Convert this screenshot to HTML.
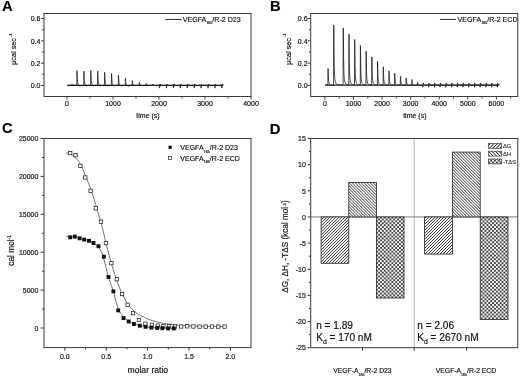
<!DOCTYPE html>
<html><head><meta charset="utf-8"><style>
html,body{margin:0;padding:0;background:#fff;}
svg{display:block;font-family:"Liberation Sans", sans-serif;will-change:transform;} text{stroke:#141414;stroke-width:0.18px;}
</style></head><body>
<svg width="520" height="378" viewBox="0 0 520 378">
<rect width="520" height="378" fill="#fff"/>
<text x="2.00" y="11.30" font-size="14.8" text-anchor="start" font-weight="bold" fill="#000" >A</text>
<text x="270.10" y="11.10" font-size="14.8" text-anchor="start" font-weight="bold" fill="#000" >B</text>
<text x="1.90" y="133.20" font-size="14.8" text-anchor="start" font-weight="bold" fill="#000" >C</text>
<text x="269.70" y="133.70" font-size="14.8" text-anchor="start" font-weight="bold" fill="#000" >D</text>
<rect x="44.00" y="13.50" width="207.00" height="83.00" fill="none" stroke="#3a3a3a" stroke-width="1"/>
<line x1="41.00" y1="85.40" x2="44.00" y2="85.40" stroke="#3a3a3a" stroke-width="1"/>
<text transform="translate(40.50,88.10) scale(1,1.12)" font-size="7.0" text-anchor="end" fill="#141414">0.0</text>
<line x1="41.00" y1="63.13" x2="44.00" y2="63.13" stroke="#3a3a3a" stroke-width="1"/>
<text transform="translate(40.50,65.83) scale(1,1.12)" font-size="7.0" text-anchor="end" fill="#141414">0.2</text>
<line x1="41.00" y1="40.86" x2="44.00" y2="40.86" stroke="#3a3a3a" stroke-width="1"/>
<text transform="translate(40.50,43.56) scale(1,1.12)" font-size="7.0" text-anchor="end" fill="#141414">0.4</text>
<line x1="41.00" y1="18.59" x2="44.00" y2="18.59" stroke="#3a3a3a" stroke-width="1"/>
<text transform="translate(40.50,21.29) scale(1,1.12)" font-size="7.0" text-anchor="end" fill="#141414">0.6</text>
<line x1="42.20" y1="74.27" x2="44.00" y2="74.27" stroke="#3a3a3a" stroke-width="1"/>
<line x1="42.20" y1="52.00" x2="44.00" y2="52.00" stroke="#3a3a3a" stroke-width="1"/>
<line x1="42.20" y1="29.73" x2="44.00" y2="29.73" stroke="#3a3a3a" stroke-width="1"/>
<line x1="67.00" y1="96.50" x2="67.00" y2="99.50" stroke="#3a3a3a" stroke-width="1"/>
<text transform="translate(67.00,105.80) scale(1,1.12)" font-size="7.0" text-anchor="middle" fill="#141414">0</text>
<line x1="113.00" y1="96.50" x2="113.00" y2="99.50" stroke="#3a3a3a" stroke-width="1"/>
<text transform="translate(113.00,105.80) scale(1,1.12)" font-size="7.0" text-anchor="middle" fill="#141414">1000</text>
<line x1="159.00" y1="96.50" x2="159.00" y2="99.50" stroke="#3a3a3a" stroke-width="1"/>
<text transform="translate(159.00,105.80) scale(1,1.12)" font-size="7.0" text-anchor="middle" fill="#141414">2000</text>
<line x1="205.00" y1="96.50" x2="205.00" y2="99.50" stroke="#3a3a3a" stroke-width="1"/>
<text transform="translate(205.00,105.80) scale(1,1.12)" font-size="7.0" text-anchor="middle" fill="#141414">3000</text>
<line x1="251.00" y1="96.50" x2="251.00" y2="99.50" stroke="#3a3a3a" stroke-width="1"/>
<text transform="translate(251.00,105.80) scale(1,1.12)" font-size="7.0" text-anchor="middle" fill="#141414">4000</text>
<line x1="90.00" y1="96.50" x2="90.00" y2="98.30" stroke="#3a3a3a" stroke-width="1"/>
<line x1="136.00" y1="96.50" x2="136.00" y2="98.30" stroke="#3a3a3a" stroke-width="1"/>
<line x1="182.00" y1="96.50" x2="182.00" y2="98.30" stroke="#3a3a3a" stroke-width="1"/>
<line x1="228.00" y1="96.50" x2="228.00" y2="98.30" stroke="#3a3a3a" stroke-width="1"/>
<text x="148.00" y="118.20" font-size="7.0" text-anchor="middle" font-weight="normal" fill="#141414" >time (s)</text>
<text transform="translate(16.10,64.9) rotate(-90)" font-size="7.3" text-anchor="start" fill="#141414">&#181;cal sec<tspan dy="-4.4" dx="1.0" font-size="4.2">-1</tspan></text>
<rect x="310.70" y="13.50" width="207.10" height="83.00" fill="none" stroke="#3a3a3a" stroke-width="1"/>
<line x1="307.70" y1="85.40" x2="310.70" y2="85.40" stroke="#3a3a3a" stroke-width="1"/>
<text transform="translate(307.60,88.10) scale(1,1.12)" font-size="7.0" text-anchor="end" fill="#141414">0.0</text>
<line x1="307.70" y1="63.13" x2="310.70" y2="63.13" stroke="#3a3a3a" stroke-width="1"/>
<text transform="translate(307.60,65.83) scale(1,1.12)" font-size="7.0" text-anchor="end" fill="#141414">0.2</text>
<line x1="307.70" y1="40.86" x2="310.70" y2="40.86" stroke="#3a3a3a" stroke-width="1"/>
<text transform="translate(307.60,43.56) scale(1,1.12)" font-size="7.0" text-anchor="end" fill="#141414">0.4</text>
<line x1="307.70" y1="18.59" x2="310.70" y2="18.59" stroke="#3a3a3a" stroke-width="1"/>
<text transform="translate(307.60,21.29) scale(1,1.12)" font-size="7.0" text-anchor="end" fill="#141414">0.6</text>
<line x1="308.90" y1="74.27" x2="310.70" y2="74.27" stroke="#3a3a3a" stroke-width="1"/>
<line x1="308.90" y1="52.00" x2="310.70" y2="52.00" stroke="#3a3a3a" stroke-width="1"/>
<line x1="308.90" y1="29.73" x2="310.70" y2="29.73" stroke="#3a3a3a" stroke-width="1"/>
<line x1="324.90" y1="96.50" x2="324.90" y2="99.50" stroke="#3a3a3a" stroke-width="1"/>
<text transform="translate(324.90,105.80) scale(1,1.12)" font-size="7.0" text-anchor="middle" fill="#141414">0</text>
<line x1="353.48" y1="96.50" x2="353.48" y2="99.50" stroke="#3a3a3a" stroke-width="1"/>
<text transform="translate(353.48,105.80) scale(1,1.12)" font-size="7.0" text-anchor="middle" fill="#141414">1000</text>
<line x1="382.06" y1="96.50" x2="382.06" y2="99.50" stroke="#3a3a3a" stroke-width="1"/>
<text transform="translate(382.06,105.80) scale(1,1.12)" font-size="7.0" text-anchor="middle" fill="#141414">2000</text>
<line x1="410.64" y1="96.50" x2="410.64" y2="99.50" stroke="#3a3a3a" stroke-width="1"/>
<text transform="translate(410.64,105.80) scale(1,1.12)" font-size="7.0" text-anchor="middle" fill="#141414">3000</text>
<line x1="439.22" y1="96.50" x2="439.22" y2="99.50" stroke="#3a3a3a" stroke-width="1"/>
<text transform="translate(439.22,105.80) scale(1,1.12)" font-size="7.0" text-anchor="middle" fill="#141414">4000</text>
<line x1="467.80" y1="96.50" x2="467.80" y2="99.50" stroke="#3a3a3a" stroke-width="1"/>
<text transform="translate(467.80,105.80) scale(1,1.12)" font-size="7.0" text-anchor="middle" fill="#141414">5000</text>
<line x1="496.38" y1="96.50" x2="496.38" y2="99.50" stroke="#3a3a3a" stroke-width="1"/>
<text transform="translate(496.38,105.80) scale(1,1.12)" font-size="7.0" text-anchor="middle" fill="#141414">6000</text>
<line x1="339.19" y1="96.50" x2="339.19" y2="98.30" stroke="#3a3a3a" stroke-width="1"/>
<line x1="367.77" y1="96.50" x2="367.77" y2="98.30" stroke="#3a3a3a" stroke-width="1"/>
<line x1="396.35" y1="96.50" x2="396.35" y2="98.30" stroke="#3a3a3a" stroke-width="1"/>
<line x1="424.93" y1="96.50" x2="424.93" y2="98.30" stroke="#3a3a3a" stroke-width="1"/>
<line x1="453.51" y1="96.50" x2="453.51" y2="98.30" stroke="#3a3a3a" stroke-width="1"/>
<line x1="482.09" y1="96.50" x2="482.09" y2="98.30" stroke="#3a3a3a" stroke-width="1"/>
<line x1="510.67" y1="96.50" x2="510.67" y2="98.30" stroke="#3a3a3a" stroke-width="1"/>
<text x="414.80" y="118.20" font-size="7.0" text-anchor="middle" font-weight="normal" fill="#141414" >time (s)</text>
<text transform="translate(290.60,64.9) rotate(-90)" font-size="7.3" text-anchor="start" fill="#141414">&#181;cal sec<tspan dy="-4.4" dx="1.0" font-size="4.2">-1</tspan></text>
<line x1="165.20" y1="19.45" x2="181.80" y2="19.45" stroke="#1a1a1a" stroke-width="0.9"/>
<text x="182.70" y="21.80" font-size="7.1" fill="#141414">VEGFA<tspan dy="2.6" font-size="3.6">165</tspan><tspan dy="-2.6">/R-2 D23</tspan></text>
<line x1="439.90" y1="19.45" x2="456.00" y2="19.45" stroke="#1a1a1a" stroke-width="0.9"/>
<text x="457.60" y="21.80" font-size="7.1" fill="#141414">VEGFA<tspan dy="2.6" font-size="3.6">165</tspan><tspan dy="-2.6">/R-2 ECD</tspan></text>
<line x1="67.30" y1="85.35" x2="223.30" y2="85.35" stroke="#1a1a1a" stroke-width="1.3"/>
<path d="M67.30,85.30 L67.80,85.30 L68.30,85.30 L68.80,85.30 L69.30,85.30 L69.80,85.30 L70.30,85.30 L70.80,85.30 L71.30,85.30 L71.65,85.30 L71.80,85.30 L71.88,85.30 L72.00,84.40 L72.15,84.41 L72.30,84.72 L72.45,84.92 L72.65,85.07 L72.80,85.13 L72.90,85.16 L73.20,85.21 L73.30,85.22 L73.60,85.24 L73.80,85.25 L74.10,85.26 L74.30,85.27 L74.70,85.27 L74.80,85.28 L75.30,85.28 L75.40,85.28 L75.80,85.29 L76.20,85.29 L76.30,85.41 L76.55,85.69 L76.78,85.29 L76.80,85.29 L76.90,70.60 L77.05,70.81 L77.20,75.91 L77.30,78.18 L77.35,79.07 L77.55,81.53 L77.80,83.12 L78.10,84.08 L78.30,84.47 L78.50,84.77 L78.80,85.15 L79.00,85.36 L79.30,85.62 L79.60,85.78 L79.80,85.83 L80.30,85.76 L80.80,85.55 L81.30,85.36 L81.80,85.26 L82.30,85.24 L82.80,85.25 L83.12,85.26 L83.30,85.47 L83.47,85.66 L83.70,85.27 L83.80,85.27 L83.82,71.18 L83.97,71.38 L84.12,76.28 L84.27,79.31 L84.30,79.76 L84.47,81.67 L84.72,83.20 L84.80,83.51 L85.02,84.12 L85.30,84.63 L85.42,84.80 L85.80,85.26 L85.92,85.38 L86.30,85.69 L86.52,85.80 L86.80,85.85 L87.22,85.77 L87.30,85.74 L87.80,85.52 L88.30,85.34 L88.80,85.26 L89.30,85.24 L89.80,85.25 L90.04,85.26 L90.30,85.56 L90.39,85.66 L90.62,85.27 L90.74,70.58 L90.80,70.66 L90.89,70.79 L91.04,75.89 L91.19,79.05 L91.30,80.59 L91.39,81.51 L91.64,83.11 L91.80,83.70 L91.94,84.07 L92.30,84.71 L92.34,84.76 L92.80,85.31 L92.84,85.35 L93.30,85.71 L93.44,85.78 L93.80,85.83 L94.14,85.76 L94.30,85.70 L94.80,85.48 L95.30,85.31 L95.80,85.25 L96.30,85.24 L96.80,85.25 L96.96,85.26 L97.30,85.65 L97.31,85.66 L97.54,85.27 L97.66,71.18 L97.80,71.36 L97.81,71.38 L97.96,76.28 L98.11,79.31 L98.30,81.58 L98.31,81.67 L98.56,83.20 L98.80,83.98 L98.86,84.12 L99.26,84.80 L99.30,84.85 L99.76,85.38 L99.80,85.42 L100.30,85.77 L100.36,85.80 L100.80,85.84 L101.06,85.77 L101.30,85.67 L101.80,85.45 L102.30,85.30 L102.80,85.25 L103.30,85.24 L103.80,85.26 L103.88,85.26 L104.23,85.66 L104.30,85.59 L104.46,85.27 L104.58,72.28 L104.73,72.46 L104.80,74.84 L104.88,76.98 L105.03,79.78 L105.23,81.95 L105.30,82.46 L105.48,83.37 L105.78,84.23 L105.80,84.27 L106.18,84.87 L106.30,85.02 L106.68,85.42 L106.80,85.53 L107.28,85.83 L107.30,85.83 L107.80,85.85 L107.98,85.79 L108.30,85.65 L108.80,85.43 L109.30,85.30 L109.80,85.25 L110.30,85.25 L110.80,85.26 L111.15,85.67 L111.30,85.50 L111.38,85.27 L111.50,73.48 L111.65,73.65 L111.80,77.75 L111.95,80.29 L112.15,82.27 L112.30,83.15 L112.40,83.56 L112.70,84.35 L112.80,84.52 L113.10,84.94 L113.30,85.17 L113.60,85.47 L113.80,85.64 L114.20,85.86 L114.30,85.89 L114.80,85.85 L114.90,85.81 L115.30,85.63 L115.80,85.42 L116.30,85.29 L116.80,85.26 L117.30,85.26 L117.72,85.26 L117.80,85.36 L118.07,85.67 L118.30,85.27 L118.42,75.18 L118.57,75.33 L118.72,78.84 L118.80,80.13 L118.87,81.01 L119.07,82.71 L119.30,83.76 L119.32,83.82 L119.62,84.51 L119.80,84.78 L120.02,85.05 L120.30,85.34 L120.52,85.55 L120.80,85.76 L121.12,85.91 L121.30,85.94 L121.80,85.85 L121.82,85.84 L122.30,85.62 L122.80,85.41 L123.30,85.30 L123.80,85.26 L124.30,85.26 L124.64,85.27 L124.80,85.45 L124.99,85.67 L125.22,85.28 L125.30,85.28 L125.34,78.09 L125.49,78.19 L125.64,80.70 L125.79,82.25 L125.80,82.33 L125.99,83.47 L126.24,84.28 L126.30,84.41 L126.54,84.79 L126.80,85.09 L126.94,85.23 L127.30,85.55 L127.44,85.67 L127.80,85.90 L128.04,85.99 L128.30,86.01 L128.74,85.90 L128.80,85.87 L129.30,85.61 L129.80,85.41 L130.30,85.31 L130.80,85.28 L131.30,85.28 L131.56,85.28 L131.80,85.56 L131.91,85.68 L132.14,85.28 L132.26,80.69 L132.30,80.71 L132.41,80.75 L132.56,82.35 L132.71,83.35 L132.80,83.75 L132.91,84.12 L133.16,84.62 L133.30,84.79 L133.46,84.94 L133.80,85.15 L133.86,85.18 L134.30,85.38 L134.36,85.40 L134.80,85.54 L134.96,85.57 L135.30,85.58 L135.66,85.54 L135.80,85.51 L136.30,85.40 L136.80,85.33 L137.30,85.29 L137.80,85.28 L138.30,85.28 L138.48,85.29 L138.80,85.65 L138.83,85.69 L139.06,85.29 L139.18,82.39 L139.30,82.43 L139.33,82.44 L139.48,83.45 L139.63,84.07 L139.80,84.51 L139.83,84.56 L140.08,84.89 L140.30,85.06 L140.38,85.10 L140.78,85.29 L140.80,85.30 L141.28,85.48 L141.30,85.48 L141.80,85.61 L141.88,85.61 L142.30,85.61 L142.58,85.57 L142.80,85.52 L143.30,85.41 L143.80,85.33 L144.30,85.30 L144.80,85.29 L145.30,85.29 L145.40,85.29 L145.75,85.69 L145.80,85.64 L145.98,85.29 L146.10,83.60 L146.25,83.62 L146.30,83.85 L146.40,84.22 L146.55,84.59 L146.75,84.88 L146.80,84.93 L147.00,85.08 L147.30,85.22 L147.70,85.36 L147.80,85.40 L148.20,85.53 L148.30,85.56 L148.80,85.65 L149.30,85.63 L149.50,85.59 L149.80,85.52 L150.30,85.41 L150.80,85.33 L151.30,85.30 L151.80,85.30 L152.30,85.30 L152.32,85.30 L152.67,85.70 L152.80,85.55 L152.90,85.30 L153.02,84.10 L153.17,84.12 L153.30,84.49 L153.32,84.54 L153.47,84.80 L153.67,85.01 L153.80,85.10 L153.92,85.16 L154.22,85.27 L154.30,85.30 L154.62,85.40 L154.80,85.45 L155.12,85.55 L155.30,85.60 L155.72,85.66 L155.80,85.67 L156.30,85.63 L156.42,85.60 L156.80,85.51 L157.30,85.40 L157.80,85.33 L158.30,85.30 L158.80,85.30 L159.24,85.30 L159.30,85.78 L159.59,88.10 L159.80,86.42 L159.82,85.30 L159.94,84.00 L160.09,84.02 L160.24,84.47 L160.30,84.60 L160.39,84.75 L160.59,84.97 L160.80,85.10 L160.84,85.12 L161.14,85.22 L161.30,85.25 L161.54,85.30 L161.80,85.35 L162.04,85.39 L162.30,85.43 L162.64,85.46 L162.80,85.47 L163.30,85.44 L163.34,85.44 L163.80,85.39 L164.30,85.33 L164.80,85.31 L165.30,85.30 L165.80,85.30 L166.16,85.30 L166.30,86.42 L166.51,88.10 L166.74,85.30 L166.80,85.30 L166.86,84.00 L167.01,84.02 L167.16,84.47 L167.30,84.74 L167.31,84.75 L167.51,84.97 L167.76,85.12 L167.80,85.14 L168.06,85.22 L168.30,85.27 L168.46,85.30 L168.80,85.37 L168.96,85.39 L169.30,85.44 L169.56,85.46 L169.80,85.47 L170.26,85.44 L170.30,85.43 L170.80,85.38 L171.30,85.33 L171.80,85.30 L172.30,85.30 L172.80,85.30 L173.08,85.30 L173.30,87.06 L173.43,88.10 L173.66,85.30 L173.78,84.00 L173.80,84.00 L173.93,84.02 L174.08,84.47 L174.23,84.75 L174.30,84.84 L174.43,84.97 L174.68,85.12 L174.80,85.17 L174.98,85.22 L175.30,85.29 L175.38,85.30 L175.80,85.38 L175.88,85.39 L176.30,85.45 L176.48,85.46 L176.80,85.46 L177.18,85.44 L177.30,85.43 L177.80,85.37 L178.30,85.32 L178.80,85.30 L179.30,85.30 L179.80,85.30 L180.00,85.30 L180.30,87.70 L180.35,88.10 L180.58,85.30 L180.70,84.00 L180.80,84.01 L180.85,84.02 L181.00,84.47 L181.15,84.75 L181.30,84.93 L181.35,84.97 L181.60,85.12 L181.80,85.19 L181.90,85.22 L182.30,85.30 L182.80,85.39 L183.30,85.46 L183.40,85.46 L183.80,85.46 L184.10,85.44 L184.30,85.42 L184.80,85.36 L185.30,85.32 L185.80,85.30 L186.30,85.30 L186.80,85.30 L186.92,85.30 L187.27,88.10 L187.30,87.86 L187.50,85.30 L187.62,84.00 L187.77,84.02 L187.80,84.13 L187.92,84.47 L188.07,84.75 L188.27,84.97 L188.30,85.00 L188.52,85.12 L188.80,85.21 L188.82,85.22 L189.22,85.30 L189.30,85.32 L189.72,85.39 L189.80,85.41 L190.30,85.46 L190.32,85.46 L190.80,85.46 L191.02,85.44 L191.30,85.41 L191.80,85.35 L192.30,85.31 L192.80,85.30 L193.30,85.30 L193.80,85.30 L193.84,85.30 L194.19,88.10 L194.30,87.22 L194.42,85.30 L194.54,84.00 L194.69,84.02 L194.80,84.37 L194.84,84.47 L194.99,84.75 L195.19,84.97 L195.30,85.05 L195.44,85.12 L195.74,85.22 L195.80,85.23 L196.14,85.30 L196.30,85.33 L196.64,85.39 L196.80,85.42 L197.24,85.46 L197.30,85.46 L197.80,85.45 L197.94,85.44 L198.30,85.40 L198.80,85.34 L199.30,85.31 L199.80,85.30 L200.30,85.30 L200.76,85.30 L200.80,85.62 L201.11,88.10 L201.30,86.58 L201.34,85.30 L201.46,84.00 L201.61,84.02 L201.76,84.47 L201.80,84.56 L201.91,84.75 L202.11,84.97 L202.30,85.09 L202.36,85.12 L202.66,85.22 L202.80,85.25 L203.06,85.30 L203.30,85.35 L203.56,85.39 L203.80,85.43 L204.16,85.46 L204.30,85.47 L204.80,85.44 L204.86,85.44 L205.30,85.39 L205.80,85.34 L206.30,85.31 L206.80,85.30 L207.30,85.30 L207.68,85.30 L207.80,86.26 L208.03,88.10 L208.26,85.30 L208.30,85.30 L208.38,84.00 L208.53,84.02 L208.68,84.47 L208.80,84.71 L208.83,84.75 L209.03,84.97 L209.28,85.12 L209.30,85.13 L209.58,85.22 L209.80,85.27 L209.98,85.30 L210.30,85.36 L210.48,85.39 L210.80,85.44 L211.08,85.46 L211.30,85.47 L211.78,85.44 L211.80,85.44 L212.30,85.38 L212.80,85.33 L213.30,85.30 L213.80,85.30 L214.30,85.30 L214.60,85.30 L214.80,86.90 L214.95,88.10 L215.18,85.30 L215.30,84.00 L215.45,84.02 L215.60,84.47 L215.75,84.75 L215.80,84.82 L215.95,84.97 L216.20,85.12 L216.30,85.16 L216.50,85.22 L216.80,85.28 L216.90,85.30 L217.30,85.38 L217.40,85.39 L217.80,85.45 L218.00,85.46 L218.30,85.46 L218.70,85.44 L218.80,85.43 L219.30,85.37 L219.80,85.32 L220.30,85.30 L220.80,85.30 L221.30,85.30 L221.52,85.30 L221.80,87.54 L221.87,88.10 L222.10,85.30 L222.22,84.00 L222.30,84.01 L222.37,84.02 L222.52,84.47 L222.67,84.75 L222.80,84.91 L222.87,84.97 L223.12,85.12 L223.30,85.18" fill="none" stroke="#1a1a1a" stroke-width="0.8" stroke-linejoin="round"/>
<line x1="325.30" y1="85.05" x2="499.40" y2="85.05" stroke="#1a1a1a" stroke-width="1.3"/>
<path d="M325.30,85.00 L325.80,85.00 L326.30,85.00 L326.80,85.00 L327.30,85.00 L327.65,85.30 L327.80,85.17 L327.88,85.00 L328.00,68.51 L328.15,68.73 L328.30,74.46 L328.45,78.00 L328.65,80.74 L328.80,81.95 L328.90,82.51 L329.20,83.54 L329.30,83.76 L329.60,84.23 L329.80,84.47 L330.10,84.76 L330.30,84.92 L330.70,85.14 L330.80,85.17 L331.30,85.20 L331.40,85.19 L331.80,85.10 L332.30,84.99 L332.80,84.93 L333.00,84.93 L333.30,85.18 L333.35,85.23 L333.58,84.93 L333.70,25.14 L333.80,25.69 L333.85,25.95 L334.00,46.69 L334.15,59.50 L334.30,67.48 L334.35,69.42 L334.60,75.75 L334.80,78.42 L334.90,79.33 L335.30,81.53 L335.80,82.94 L336.30,83.79 L336.40,83.91 L336.80,84.26 L337.10,84.40 L337.30,84.46 L337.80,84.52 L338.30,84.58 L338.80,84.65 L339.30,84.73 L339.80,84.80 L340.30,84.85 L340.80,84.89 L341.30,84.92 L341.80,84.94 L342.30,84.96 L342.50,84.96 L342.80,85.23 L342.85,85.27 L343.08,84.97 L343.20,27.88 L343.30,28.40 L343.35,28.65 L343.50,48.46 L343.65,60.68 L343.80,68.30 L343.85,70.15 L344.10,76.19 L344.30,78.74 L344.40,79.61 L344.80,81.71 L345.30,83.06 L345.80,83.88 L345.90,84.00 L346.30,84.33 L346.60,84.46 L346.80,84.51 L347.30,84.56 L347.80,84.60 L348.22,84.66 L348.30,84.74 L348.57,85.01 L348.80,84.75 L348.92,33.97 L349.07,34.67 L349.22,52.31 L349.30,58.76 L349.37,63.21 L349.57,71.65 L349.80,76.74 L349.82,77.05 L350.12,80.11 L350.30,81.15 L350.52,82.02 L350.80,82.80 L351.02,83.27 L351.30,83.74 L351.62,84.13 L351.80,84.29 L352.30,84.54 L352.32,84.55 L352.80,84.61 L353.30,84.63 L353.80,84.67 L353.94,84.69 L354.29,85.04 L354.30,85.03 L354.52,84.77 L354.64,39.49 L354.79,40.12 L354.80,41.42 L354.94,55.85 L355.09,65.56 L355.29,73.09 L355.30,73.36 L355.54,77.91 L355.80,80.40 L355.84,80.66 L356.24,82.37 L356.30,82.54 L356.74,83.50 L356.80,83.60 L357.30,84.25 L357.34,84.29 L357.80,84.58 L358.04,84.65 L358.30,84.67 L358.80,84.68 L359.30,84.70 L359.66,84.73 L359.80,84.86 L360.01,85.07 L360.24,84.79 L360.30,84.80 L360.36,45.41 L360.51,45.96 L360.66,59.64 L360.80,67.65 L360.81,68.09 L361.01,74.65 L361.26,78.84 L361.30,79.28 L361.56,81.24 L361.80,82.26 L361.96,82.74 L362.30,83.49 L362.46,83.76 L362.80,84.21 L363.06,84.46 L363.30,84.62 L363.76,84.75 L363.80,84.76 L364.30,84.76 L364.80,84.74 L365.30,84.76 L365.38,84.77 L365.73,85.10 L365.80,85.05 L365.96,84.82 L366.08,51.14 L366.23,51.61 L366.30,57.78 L366.38,63.31 L366.53,70.54 L366.73,76.15 L366.80,77.43 L366.98,79.74 L367.28,81.80 L367.30,81.89 L367.68,83.11 L367.80,83.36 L368.18,84.00 L368.30,84.16 L368.78,84.62 L368.80,84.64 L369.30,84.84 L369.48,84.86 L369.80,84.85 L370.30,84.81 L370.80,84.79 L371.10,84.81 L371.30,84.99 L371.45,85.13 L371.68,84.85 L371.80,56.86 L371.95,57.25 L372.10,66.98 L372.25,72.99 L372.30,74.44 L372.45,77.65 L372.70,80.64 L372.80,81.36 L373.00,82.36 L373.30,83.25 L373.40,83.47 L373.80,84.12 L373.90,84.24 L374.30,84.65 L374.50,84.79 L374.80,84.92 L375.20,84.97 L375.30,84.96 L375.80,84.90 L376.30,84.85 L376.80,84.84 L376.82,84.84 L377.17,85.16 L377.30,85.06 L377.40,84.87 L377.52,61.39 L377.67,61.72 L377.80,69.00 L377.82,69.88 L377.97,74.92 L378.17,78.84 L378.30,80.37 L378.42,81.35 L378.72,82.81 L378.80,83.05 L379.12,83.76 L379.30,84.04 L379.62,84.44 L379.80,84.62 L380.22,84.92 L380.30,84.96 L380.80,85.05 L380.92,85.05 L381.30,85.00 L381.80,84.91 L382.30,84.88 L382.54,84.87 L382.80,85.10 L382.89,85.18 L383.12,84.90 L383.24,66.81 L383.30,66.91 L383.39,67.06 L383.54,73.35 L383.69,77.24 L383.80,79.12 L383.89,80.26 L384.14,82.20 L384.30,82.91 L384.44,83.34 L384.80,84.04 L384.84,84.10 L385.30,84.63 L385.34,84.67 L385.80,85.01 L385.94,85.07 L386.30,85.16 L386.64,85.15 L386.80,85.12 L387.30,85.01 L387.80,84.93 L388.26,84.91 L388.30,84.94 L388.61,85.21 L388.80,85.06 L388.84,84.92 L388.96,70.93 L389.11,71.13 L389.26,75.99 L389.30,76.94 L389.41,79.00 L389.61,81.34 L389.80,82.58 L389.86,82.85 L390.16,83.74 L390.30,84.00 L390.56,84.36 L390.80,84.62 L391.06,84.84 L391.30,85.02 L391.66,85.19 L391.80,85.23 L392.30,85.23 L392.36,85.22 L392.80,85.12 L393.30,85.00 L393.80,84.95 L393.98,84.94 L394.30,85.21 L394.33,85.24 L394.56,84.94 L394.68,73.25 L394.80,73.38 L394.83,73.41 L394.98,77.48 L395.13,79.99 L395.30,81.73 L395.33,81.95 L395.58,83.22 L395.80,83.82 L395.88,83.97 L396.28,84.51 L396.30,84.53 L396.78,84.95 L396.80,84.96 L397.30,85.23 L397.38,85.26 L397.80,85.31 L398.08,85.27 L398.30,85.21 L398.80,85.08 L399.30,84.98 L399.70,84.95 L399.80,85.04 L400.05,85.25 L400.28,84.95 L400.30,84.95 L400.40,76.06 L400.55,76.18 L400.70,79.28 L400.80,80.65 L400.85,81.19 L401.05,82.69 L401.30,83.66 L401.60,84.25 L401.80,84.49 L402.00,84.69 L402.30,84.93 L402.50,85.06 L402.80,85.23 L403.10,85.34 L403.30,85.37 L403.80,85.32 L404.30,85.17 L404.80,85.04 L405.30,84.98 L405.42,84.97 L405.77,85.26 L405.80,85.24 L406.00,84.96 L406.12,77.87 L406.27,77.97 L406.30,78.57 L406.42,80.44 L406.57,81.97 L406.77,83.16 L406.80,83.29 L407.02,83.95 L407.30,84.40 L407.32,84.43 L407.72,84.80 L407.80,84.86 L408.22,85.14 L408.30,85.19 L408.80,85.39 L408.82,85.39 L409.30,85.40 L409.52,85.35 L409.80,85.27 L410.30,85.11 L410.80,85.01 L411.14,84.98 L411.30,85.11 L411.49,85.27 L411.72,84.97 L411.80,84.97 L411.84,79.58 L411.99,79.66 L412.14,81.54 L412.29,82.70 L412.30,82.76 L412.49,83.61 L412.74,84.22 L412.80,84.31 L413.04,84.60 L413.30,84.81 L413.44,84.91 L413.80,85.14 L413.94,85.22 L414.30,85.38 L414.54,85.44 L414.80,85.46 L415.24,85.38 L415.30,85.37 L415.80,85.20 L416.30,85.07 L416.80,85.00 L416.86,85.00 L417.21,85.28 L417.30,85.20 L417.44,84.98 L417.56,82.49 L417.71,82.52 L417.80,83.10 L417.86,83.40 L418.01,83.94 L418.21,84.37 L418.30,84.50 L418.46,84.67 L418.76,84.88 L418.80,84.90 L419.16,85.09 L419.30,85.16 L419.66,85.34 L419.80,85.40 L420.26,85.52 L420.30,85.53 L420.80,85.48 L420.96,85.44 L421.30,85.32 L421.80,85.15 L422.30,85.04 L422.58,85.02 L422.80,86.39 L422.93,87.20 L423.16,84.99 L423.28,82.99 L423.30,83.00 L423.43,83.02 L423.58,83.72 L423.73,84.15 L423.80,84.29 L423.93,84.48 L424.18,84.71 L424.30,84.77 L424.48,84.85 L424.80,84.94 L424.88,84.96 L425.30,85.05 L425.38,85.06 L425.80,85.13 L425.98,85.14 L426.30,85.15 L426.68,85.12 L426.80,85.11 L427.30,85.06 L427.80,85.02 L428.30,85.00 L428.65,87.19 L428.80,86.25 L428.88,84.99 L429.00,82.99 L429.15,83.02 L429.30,83.72 L429.45,84.15 L429.65,84.49 L429.80,84.64 L429.90,84.71 L430.20,84.85 L430.30,84.88 L430.60,84.96 L430.80,85.00 L431.10,85.06 L431.30,85.10 L431.70,85.14 L431.80,85.15 L432.30,85.13 L432.40,85.12 L432.80,85.08 L433.30,85.03 L433.80,85.00 L434.02,85.00 L434.30,86.75 L434.37,87.19 L434.60,84.99 L434.72,82.99 L434.80,83.01 L434.87,83.02 L435.02,83.72 L435.17,84.15 L435.30,84.39 L435.37,84.49 L435.62,84.71 L435.80,84.80 L435.92,84.85 L436.30,84.95 L436.32,84.96 L436.80,85.06 L436.82,85.06 L437.30,85.13 L437.42,85.14 L437.80,85.15 L438.12,85.12 L438.30,85.11 L438.80,85.05 L439.30,85.01 L439.74,85.00 L439.80,85.37 L440.09,87.19 L440.30,85.87 L440.32,84.99 L440.44,82.99 L440.59,83.02 L440.74,83.72 L440.80,83.92 L440.89,84.15 L441.09,84.49 L441.30,84.68 L441.34,84.71 L441.64,84.85 L441.80,84.90 L442.04,84.96 L442.30,85.02 L442.54,85.06 L442.80,85.11 L443.14,85.14 L443.30,85.15 L443.80,85.13 L443.84,85.12 L444.30,85.08 L444.80,85.03 L445.30,85.00 L445.46,85.00 L445.80,87.13 L445.81,87.19 L446.04,84.99 L446.16,82.99 L446.30,83.02 L446.31,83.02 L446.46,83.72 L446.61,84.15 L446.80,84.47 L446.81,84.49 L447.06,84.71 L447.30,84.83 L447.36,84.85 L447.76,84.96 L447.80,84.97 L448.26,85.06 L448.30,85.07 L448.80,85.14 L448.86,85.14 L449.30,85.14 L449.56,85.12 L449.80,85.10 L450.30,85.05 L450.80,85.01 L451.18,85.00 L451.30,85.75 L451.53,87.19 L451.76,84.99 L451.80,84.99 L451.88,82.99 L452.03,83.02 L452.18,83.72 L452.30,84.08 L452.33,84.15 L452.53,84.49 L452.78,84.71 L452.80,84.72 L453.08,84.85 L453.30,84.91 L453.48,84.96 L453.80,85.03 L453.98,85.06 L454.30,85.11 L454.58,85.14 L454.80,85.15 L455.28,85.12 L455.30,85.12 L455.80,85.07 L456.30,85.02 L456.80,85.00 L456.90,85.00 L457.25,87.19 L457.30,86.88 L457.48,84.99 L457.60,82.99 L457.75,83.02 L457.80,83.29 L457.90,83.72 L458.05,84.15 L458.25,84.49 L458.30,84.54 L458.50,84.71 L458.80,84.85 L459.20,84.96 L459.30,84.98 L459.70,85.06 L459.80,85.08 L460.30,85.14 L460.80,85.14 L461.00,85.12 L461.30,85.09 L461.80,85.04 L462.30,85.01 L462.62,85.00 L462.80,86.13 L462.97,87.19 L463.20,84.99 L463.30,84.99 L463.32,82.99 L463.47,83.02 L463.62,83.72 L463.77,84.15 L463.80,84.21 L463.97,84.49 L464.22,84.71 L464.30,84.75 L464.52,84.85 L464.80,84.93 L464.92,84.96 L465.30,85.04 L465.42,85.06 L465.80,85.12 L466.02,85.14 L466.30,85.15 L466.72,85.12 L466.80,85.12 L467.30,85.06 L467.80,85.02 L468.30,85.00 L468.34,85.00 L468.69,87.19 L468.80,86.50 L468.92,84.99 L469.04,82.99 L469.19,83.02 L469.30,83.56 L469.34,83.72 L469.49,84.15 L469.69,84.49 L469.80,84.60 L469.94,84.71 L470.24,84.85 L470.30,84.87 L470.64,84.96 L470.80,84.99 L471.14,85.06 L471.30,85.09 L471.74,85.14 L471.80,85.14 L472.30,85.14 L472.44,85.12 L472.80,85.09 L473.30,85.04 L473.80,85.00 L474.06,85.00 L474.30,86.50 L474.41,87.19 L474.64,84.99 L474.76,82.99 L474.80,83.00 L474.91,83.02 L475.06,83.72 L475.21,84.15 L475.30,84.33 L475.41,84.49 L475.66,84.71 L475.80,84.78 L475.96,84.85 L476.30,84.94 L476.36,84.96 L476.80,85.05 L476.86,85.06 L477.30,85.13 L477.46,85.14 L477.80,85.15 L478.16,85.12 L478.30,85.11 L478.80,85.06 L479.30,85.02 L479.78,85.00 L479.80,85.12 L480.13,87.19 L480.30,86.12 L480.36,84.99 L480.48,82.99 L480.63,83.02 L480.78,83.72 L480.80,83.79 L480.93,84.15 L481.13,84.49 L481.30,84.65 L481.38,84.71 L481.68,84.85 L481.80,84.89 L482.08,84.96 L482.30,85.01 L482.58,85.06 L482.80,85.10 L483.18,85.14 L483.30,85.15 L483.80,85.13 L483.88,85.12 L484.30,85.08 L484.80,85.03 L485.30,85.00 L485.50,85.00 L485.80,86.88 L485.85,87.19 L486.08,84.99 L486.20,82.99 L486.30,83.01 L486.35,83.02 L486.50,83.72 L486.65,84.15 L486.80,84.42 L486.85,84.49 L487.10,84.71 L487.30,84.81 L487.40,84.85 L487.80,84.96 L488.30,85.06 L488.80,85.13 L488.90,85.14 L489.30,85.15 L489.60,85.12 L489.80,85.10 L490.30,85.05 L490.80,85.01 L491.22,85.00 L491.30,85.50 L491.57,87.19 L491.80,84.99 L491.92,82.99 L492.07,83.02 L492.22,83.72 L492.30,83.97 L492.37,84.15 L492.57,84.49 L492.80,84.70 L492.82,84.71 L493.12,84.85 L493.30,84.90 L493.52,84.96 L493.80,85.02 L494.02,85.06 L494.30,85.11 L494.62,85.14 L494.80,85.15 L495.30,85.13 L495.32,85.12 L495.80,85.07 L496.30,85.03 L496.80,85.00 L496.94,85.00 L497.29,87.19 L497.30,87.13 L497.52,84.99 L497.64,82.99 L497.79,83.02 L497.80,83.08 L497.94,83.72 L498.09,84.15 L498.29,84.49 L498.30,84.50 L498.54,84.71 L498.80,84.83 L498.84,84.85 L499.24,84.96 L499.30,84.97" fill="none" stroke="#1a1a1a" stroke-width="0.8" stroke-linejoin="round"/>
<rect x="44.00" y="138.50" width="207.00" height="209.10" fill="none" stroke="#3a3a3a" stroke-width="1"/>
<line x1="40.60" y1="328.00" x2="44.00" y2="328.00" stroke="#3a3a3a" stroke-width="1"/>
<text transform="translate(38.40,330.70) scale(1,1.12)" font-size="7.0" text-anchor="end" fill="#141414">0</text>
<line x1="40.60" y1="290.10" x2="44.00" y2="290.10" stroke="#3a3a3a" stroke-width="1"/>
<text transform="translate(38.40,292.80) scale(1,1.12)" font-size="7.0" text-anchor="end" fill="#141414">5000</text>
<line x1="40.60" y1="252.20" x2="44.00" y2="252.20" stroke="#3a3a3a" stroke-width="1"/>
<text transform="translate(38.40,254.90) scale(1,1.12)" font-size="7.0" text-anchor="end" fill="#141414">10000</text>
<line x1="40.60" y1="214.30" x2="44.00" y2="214.30" stroke="#3a3a3a" stroke-width="1"/>
<text transform="translate(38.40,217.00) scale(1,1.12)" font-size="7.0" text-anchor="end" fill="#141414">15000</text>
<line x1="40.60" y1="176.40" x2="44.00" y2="176.40" stroke="#3a3a3a" stroke-width="1"/>
<text transform="translate(38.40,179.10) scale(1,1.12)" font-size="7.0" text-anchor="end" fill="#141414">20000</text>
<line x1="40.60" y1="138.50" x2="44.00" y2="138.50" stroke="#3a3a3a" stroke-width="1"/>
<text transform="translate(38.40,141.20) scale(1,1.12)" font-size="7.0" text-anchor="end" fill="#141414">25000</text>
<line x1="42.00" y1="309.05" x2="44.00" y2="309.05" stroke="#3a3a3a" stroke-width="1"/>
<line x1="42.00" y1="271.15" x2="44.00" y2="271.15" stroke="#3a3a3a" stroke-width="1"/>
<line x1="42.00" y1="233.25" x2="44.00" y2="233.25" stroke="#3a3a3a" stroke-width="1"/>
<line x1="42.00" y1="195.35" x2="44.00" y2="195.35" stroke="#3a3a3a" stroke-width="1"/>
<line x1="42.00" y1="157.45" x2="44.00" y2="157.45" stroke="#3a3a3a" stroke-width="1"/>
<line x1="64.80" y1="347.60" x2="64.80" y2="350.60" stroke="#3a3a3a" stroke-width="1"/>
<text transform="translate(64.80,359.00) scale(1,1.12)" font-size="7.0" text-anchor="middle" fill="#141414">0.0</text>
<line x1="106.20" y1="347.60" x2="106.20" y2="350.60" stroke="#3a3a3a" stroke-width="1"/>
<text transform="translate(106.20,359.00) scale(1,1.12)" font-size="7.0" text-anchor="middle" fill="#141414">0.5</text>
<line x1="147.60" y1="347.60" x2="147.60" y2="350.60" stroke="#3a3a3a" stroke-width="1"/>
<text transform="translate(147.60,359.00) scale(1,1.12)" font-size="7.0" text-anchor="middle" fill="#141414">1.0</text>
<line x1="189.00" y1="347.60" x2="189.00" y2="350.60" stroke="#3a3a3a" stroke-width="1"/>
<text transform="translate(189.00,359.00) scale(1,1.12)" font-size="7.0" text-anchor="middle" fill="#141414">1.5</text>
<line x1="230.40" y1="347.60" x2="230.40" y2="350.60" stroke="#3a3a3a" stroke-width="1"/>
<text transform="translate(230.40,359.00) scale(1,1.12)" font-size="7.0" text-anchor="middle" fill="#141414">2.0</text>
<line x1="85.50" y1="347.60" x2="85.50" y2="349.40" stroke="#3a3a3a" stroke-width="1"/>
<line x1="126.90" y1="347.60" x2="126.90" y2="349.40" stroke="#3a3a3a" stroke-width="1"/>
<line x1="168.30" y1="347.60" x2="168.30" y2="349.40" stroke="#3a3a3a" stroke-width="1"/>
<line x1="209.70" y1="347.60" x2="209.70" y2="349.40" stroke="#3a3a3a" stroke-width="1"/>
<text x="147.80" y="372.90" font-size="8.6" text-anchor="middle" font-weight="normal" fill="#141414" >molar ratio</text>
<text transform="translate(14.4,250.3) rotate(-90)" font-size="8.3" text-anchor="middle" fill="#141414">cal mol<tspan dy="-3" font-size="5">-1</tspan></text>
<path d="M66.00,152.80 L66.54,152.94 L67.30,153.10 L68.19,153.31 L69.15,153.57 L70.11,153.89 L71.00,154.30 L71.83,154.78 L72.67,155.31 L73.50,155.91 L74.33,156.58 L75.17,157.34 L76.00,158.20 L76.83,159.13 L77.66,160.12 L78.49,161.19 L79.33,162.38 L80.16,163.71 L81.00,165.20 L81.84,166.89 L82.69,168.76 L83.53,170.77 L84.38,172.88 L85.24,175.04 L86.10,177.20 L86.97,179.36 L87.86,181.57 L88.75,183.82 L89.64,186.13 L90.53,188.52 L91.40,191.00 L92.26,193.59 L93.12,196.28 L93.97,199.05 L94.81,201.86 L95.66,204.69 L96.50,207.50 L97.34,210.29 L98.19,213.07 L99.04,215.87 L99.87,218.70 L100.70,221.57 L101.50,224.50 L102.27,227.50 L103.02,230.57 L103.75,233.68 L104.48,236.81 L105.23,239.96 L106.00,243.10 L106.80,246.27 L107.62,249.49 L108.46,252.72 L109.30,255.92 L110.15,259.06 L111.00,262.10 L111.85,265.04 L112.69,267.91 L113.54,270.71 L114.41,273.46 L115.29,276.15 L116.20,278.80 L117.14,281.42 L118.11,284.01 L119.10,286.56 L120.10,289.02 L121.10,291.38 L122.10,293.60 L123.08,295.69 L124.04,297.67 L125.01,299.55 L126.00,301.33 L127.02,303.01 L128.10,304.60 L129.24,306.10 L130.42,307.50 L131.64,308.80 L132.89,310.01 L134.15,311.15 L135.40,312.20 L136.66,313.16 L137.94,314.00 L139.22,314.77 L140.52,315.47 L141.81,316.14 L143.10,316.80 L144.37,317.43 L145.61,318.03 L146.86,318.58 L148.12,319.11 L149.43,319.61 L150.80,320.10 L152.25,320.57 L153.76,321.03 L155.31,321.46 L156.88,321.86 L158.45,322.24 L160.00,322.60 L161.53,322.93 L163.06,323.22 L164.59,323.49 L166.13,323.74 L167.66,323.98 L169.20,324.20 L170.72,324.40 L172.21,324.59 L173.71,324.76 L175.23,324.91 L176.82,325.06 L178.50,325.20 L180.25,325.34 L182.04,325.47 L183.89,325.59 L185.83,325.70 L187.86,325.80 L190.00,325.90 L192.24,325.99 L194.56,326.06 L196.97,326.13 L199.50,326.19 L202.17,326.25 L205.00,326.30 L208.28,326.35 L212.04,326.39 L215.94,326.43 L219.63,326.46 L222.77,326.48 L225.00,326.50" fill="none" stroke="#333" stroke-width="0.7"/>
<path d="M66.30,236.60 L66.71,236.62 L67.28,236.64 L67.95,236.68 L68.69,236.71 L69.45,236.75 L70.20,236.80 L70.95,236.85 L71.73,236.90 L72.53,236.96 L73.35,237.02 L74.18,237.10 L75.00,237.20 L75.82,237.32 L76.65,237.44 L77.49,237.59 L78.33,237.74 L79.16,237.92 L80.00,238.10 L80.83,238.30 L81.67,238.51 L82.50,238.74 L83.33,238.98 L84.17,239.23 L85.00,239.50 L85.84,239.78 L86.69,240.07 L87.53,240.38 L88.37,240.70 L89.20,241.04 L90.00,241.40 L90.78,241.78 L91.54,242.18 L92.28,242.59 L93.02,243.03 L93.76,243.50 L94.50,244.00 L95.25,244.47 L96.01,244.91 L96.76,245.38 L97.51,245.93 L98.26,246.65 L99.00,247.60 L99.72,248.71 L100.42,249.93 L101.12,251.30 L101.82,252.90 L102.55,254.78 L103.30,257.00 L104.09,259.73 L104.91,262.96 L105.76,266.46 L106.61,270.04 L107.46,273.49 L108.30,276.60 L109.13,279.32 L109.97,281.80 L110.81,284.16 L111.64,286.47 L112.47,288.86 L113.30,291.40 L114.12,294.22 L114.93,297.26 L115.74,300.36 L116.55,303.37 L117.37,306.13 L118.20,308.50 L119.05,310.44 L119.90,312.06 L120.76,313.44 L121.63,314.64 L122.51,315.74 L123.40,316.80 L124.30,317.79 L125.22,318.65 L126.14,319.41 L127.07,320.08 L127.99,320.70 L128.90,321.30 L129.79,321.85 L130.66,322.34 L131.53,322.77 L132.40,323.16 L133.29,323.53 L134.20,323.90 L135.14,324.25 L136.09,324.58 L137.06,324.89 L138.03,325.17 L139.02,325.44 L140.00,325.70 L140.99,325.94 L141.99,326.16 L142.99,326.37 L143.99,326.56 L145.00,326.74 L146.00,326.90 L146.98,327.05 L147.93,327.18 L148.88,327.29 L149.85,327.40 L150.88,327.50 L152.00,327.60 L153.14,327.70 L154.26,327.79 L155.44,327.87 L156.74,327.95 L158.24,328.02 L160.00,328.10 L162.27,328.18 L165.04,328.26 L168.00,328.33 L170.85,328.40 L173.29,328.46 L175.00,328.50" fill="none" stroke="#333" stroke-width="0.7"/>
<rect x="68.53" y="151.42" width="3.35" height="3.35" fill="#fff" stroke="#222" stroke-width="0.75"/>
<rect x="73.83" y="153.52" width="3.35" height="3.35" fill="#fff" stroke="#222" stroke-width="0.75"/>
<rect x="78.73" y="164.12" width="3.35" height="3.35" fill="#fff" stroke="#222" stroke-width="0.75"/>
<rect x="83.62" y="175.82" width="3.35" height="3.35" fill="#fff" stroke="#222" stroke-width="0.75"/>
<rect x="88.92" y="189.12" width="3.35" height="3.35" fill="#fff" stroke="#222" stroke-width="0.75"/>
<rect x="94.12" y="206.52" width="3.35" height="3.35" fill="#fff" stroke="#222" stroke-width="0.75"/>
<rect x="99.33" y="220.02" width="3.35" height="3.35" fill="#fff" stroke="#222" stroke-width="0.75"/>
<rect x="104.23" y="241.52" width="3.35" height="3.35" fill="#fff" stroke="#222" stroke-width="0.75"/>
<rect x="109.73" y="261.43" width="3.35" height="3.35" fill="#fff" stroke="#222" stroke-width="0.75"/>
<rect x="115.12" y="277.52" width="3.35" height="3.35" fill="#fff" stroke="#222" stroke-width="0.75"/>
<rect x="120.42" y="292.32" width="3.35" height="3.35" fill="#fff" stroke="#222" stroke-width="0.75"/>
<rect x="125.92" y="303.12" width="3.35" height="3.35" fill="#fff" stroke="#222" stroke-width="0.75"/>
<rect x="131.32" y="311.43" width="3.35" height="3.35" fill="#fff" stroke="#222" stroke-width="0.75"/>
<rect x="137.22" y="318.32" width="3.35" height="3.35" fill="#fff" stroke="#222" stroke-width="0.75"/>
<rect x="143.72" y="322.02" width="3.35" height="3.35" fill="#fff" stroke="#222" stroke-width="0.75"/>
<rect x="150.22" y="323.12" width="3.35" height="3.35" fill="#fff" stroke="#222" stroke-width="0.75"/>
<rect x="156.12" y="323.93" width="3.35" height="3.35" fill="#fff" stroke="#222" stroke-width="0.75"/>
<rect x="161.72" y="324.32" width="3.35" height="3.35" fill="#fff" stroke="#222" stroke-width="0.75"/>
<rect x="167.42" y="324.62" width="3.35" height="3.35" fill="#fff" stroke="#222" stroke-width="0.75"/>
<rect x="173.32" y="324.82" width="3.35" height="3.35" fill="#fff" stroke="#222" stroke-width="0.75"/>
<rect x="179.52" y="324.82" width="3.35" height="3.35" fill="#fff" stroke="#222" stroke-width="0.75"/>
<rect x="185.52" y="324.62" width="3.35" height="3.35" fill="#fff" stroke="#222" stroke-width="0.75"/>
<rect x="191.72" y="324.82" width="3.35" height="3.35" fill="#fff" stroke="#222" stroke-width="0.75"/>
<rect x="197.92" y="324.93" width="3.35" height="3.35" fill="#fff" stroke="#222" stroke-width="0.75"/>
<rect x="204.02" y="324.93" width="3.35" height="3.35" fill="#fff" stroke="#222" stroke-width="0.75"/>
<rect x="210.22" y="324.93" width="3.35" height="3.35" fill="#fff" stroke="#222" stroke-width="0.75"/>
<rect x="216.62" y="324.93" width="3.35" height="3.35" fill="#fff" stroke="#222" stroke-width="0.75"/>
<rect x="222.92" y="324.93" width="3.35" height="3.35" fill="#fff" stroke="#222" stroke-width="0.75"/>
<rect x="68.25" y="235.35" width="3.9" height="3.9" fill="#111"/>
<rect x="72.85" y="234.65" width="3.9" height="3.9" fill="#111"/>
<rect x="77.65" y="236.35" width="3.9" height="3.9" fill="#111"/>
<rect x="82.25" y="237.65" width="3.9" height="3.9" fill="#111"/>
<rect x="87.05" y="238.85" width="3.9" height="3.9" fill="#111"/>
<rect x="91.55" y="241.05" width="3.9" height="3.9" fill="#111"/>
<rect x="96.55" y="244.25" width="3.9" height="3.9" fill="#111"/>
<rect x="101.85" y="254.75" width="3.9" height="3.9" fill="#111"/>
<rect x="106.55" y="275.05" width="3.9" height="3.9" fill="#111"/>
<rect x="111.45" y="289.35" width="3.9" height="3.9" fill="#111"/>
<rect x="116.25" y="308.45" width="3.9" height="3.9" fill="#111"/>
<rect x="121.55" y="316.15" width="3.9" height="3.9" fill="#111"/>
<rect x="126.75" y="319.55" width="3.9" height="3.9" fill="#111"/>
<rect x="131.95" y="322.05" width="3.9" height="3.9" fill="#111"/>
<rect x="137.85" y="323.75" width="3.9" height="3.9" fill="#111"/>
<rect x="143.65" y="324.85" width="3.9" height="3.9" fill="#111"/>
<rect x="149.35" y="325.65" width="3.9" height="3.9" fill="#111"/>
<rect x="155.25" y="325.95" width="3.9" height="3.9" fill="#111"/>
<rect x="160.45" y="326.25" width="3.9" height="3.9" fill="#111"/>
<rect x="166.15" y="326.45" width="3.9" height="3.9" fill="#111"/>
<rect x="171.85" y="326.45" width="3.9" height="3.9" fill="#111"/>
<rect x="168.50" y="145.70" width="3.2" height="3.2" fill="#111"/>
<rect x="168.60" y="156.40" width="3.0" height="3.0" fill="#fff" stroke="#222" stroke-width="0.7"/>
<text x="180.3" y="150.00" font-size="7.0" fill="#141414">VEGFA<tspan dy="2.8" font-size="3.7">165</tspan><tspan dy="-2.8">/R-2 D23</tspan></text>
<text x="180.3" y="160.60" font-size="7.0" fill="#141414">VEGFA<tspan dy="2.8" font-size="3.7">165</tspan><tspan dy="-2.8">/R-2 ECD</tspan></text>
<defs>
<pattern id="hg" patternUnits="userSpaceOnUse" width="2.12" height="2.12" patternTransform="rotate(45)"><rect width="2.12" height="2.12" fill="#fff"/><line x1="1.06" y1="-1" x2="1.06" y2="3.2" stroke="#2a2a2a" stroke-width="0.66"/></pattern>
<pattern id="hh" patternUnits="userSpaceOnUse" width="2.12" height="2.12" patternTransform="rotate(-45)"><rect width="2.12" height="2.12" fill="#fff"/><line x1="1.06" y1="-1" x2="1.06" y2="3.2" stroke="#2a2a2a" stroke-width="0.66"/></pattern>
<pattern id="hx" patternUnits="userSpaceOnUse" width="3.8" height="3.8"><rect width="3.8" height="3.8" fill="#fff"/><rect width="1.9" height="1.9" fill="#444"/><rect x="1.9" y="1.9" width="1.9" height="1.9" fill="#444"/></pattern>
<pattern id="lg" patternUnits="userSpaceOnUse" width="2.47" height="2.47" patternTransform="rotate(45)"><rect width="2.47" height="2.47" fill="#fff"/><line x1="1.23" y1="-1" x2="1.23" y2="3.5" stroke="#222" stroke-width="0.85"/></pattern>
<pattern id="lh" patternUnits="userSpaceOnUse" width="2.47" height="2.47" patternTransform="rotate(-45)"><rect width="2.47" height="2.47" fill="#fff"/><line x1="1.23" y1="-1" x2="1.23" y2="3.5" stroke="#222" stroke-width="0.85"/></pattern>
</defs>
<line x1="310.70" y1="216.95" x2="517.80" y2="216.95" stroke="#555" stroke-width="0.8"/>
<line x1="414.20" y1="138.50" x2="414.20" y2="347.70" stroke="#8a8a8a" stroke-width="0.6"/>
<rect x="321.10" y="216.95" width="27.70" height="46.34" fill="url(#hg)" stroke="#222" stroke-width="0.8"/>
<rect x="348.80" y="182.43" width="27.60" height="34.52" fill="url(#hh)" stroke="#222" stroke-width="0.8"/>
<rect x="376.40" y="216.95" width="27.60" height="81.06" fill="url(#hx)" stroke="#222" stroke-width="0.8"/>
<rect x="424.60" y="216.95" width="27.80" height="37.13" fill="url(#hg)" stroke="#222" stroke-width="0.8"/>
<rect x="452.40" y="152.10" width="27.80" height="64.85" fill="url(#hh)" stroke="#222" stroke-width="0.8"/>
<rect x="480.20" y="216.95" width="27.80" height="102.51" fill="url(#hx)" stroke="#222" stroke-width="0.8"/>
<rect x="310.70" y="138.50" width="207.10" height="209.20" fill="none" stroke="#3a3a3a" stroke-width="1"/>
<line x1="307.70" y1="138.50" x2="310.70" y2="138.50" stroke="#3a3a3a" stroke-width="1"/>
<text transform="translate(305.80,141.20) scale(1,1.12)" font-size="7.0" text-anchor="end" fill="#141414">15</text>
<line x1="307.70" y1="164.65" x2="310.70" y2="164.65" stroke="#3a3a3a" stroke-width="1"/>
<text transform="translate(305.80,167.35) scale(1,1.12)" font-size="7.0" text-anchor="end" fill="#141414">10</text>
<line x1="307.70" y1="190.80" x2="310.70" y2="190.80" stroke="#3a3a3a" stroke-width="1"/>
<text transform="translate(305.80,193.50) scale(1,1.12)" font-size="7.0" text-anchor="end" fill="#141414">5</text>
<line x1="307.70" y1="216.95" x2="310.70" y2="216.95" stroke="#3a3a3a" stroke-width="1"/>
<text transform="translate(305.80,219.65) scale(1,1.12)" font-size="7.0" text-anchor="end" fill="#141414">0</text>
<line x1="307.70" y1="243.10" x2="310.70" y2="243.10" stroke="#3a3a3a" stroke-width="1"/>
<text transform="translate(305.80,245.80) scale(1,1.12)" font-size="7.0" text-anchor="end" fill="#141414">-5</text>
<line x1="307.70" y1="269.25" x2="310.70" y2="269.25" stroke="#3a3a3a" stroke-width="1"/>
<text transform="translate(305.80,271.95) scale(1,1.12)" font-size="7.0" text-anchor="end" fill="#141414">-10</text>
<line x1="307.70" y1="295.40" x2="310.70" y2="295.40" stroke="#3a3a3a" stroke-width="1"/>
<text transform="translate(305.80,298.10) scale(1,1.12)" font-size="7.0" text-anchor="end" fill="#141414">-15</text>
<line x1="307.70" y1="321.55" x2="310.70" y2="321.55" stroke="#3a3a3a" stroke-width="1"/>
<text transform="translate(305.80,324.25) scale(1,1.12)" font-size="7.0" text-anchor="end" fill="#141414">-20</text>
<line x1="307.70" y1="347.70" x2="310.70" y2="347.70" stroke="#3a3a3a" stroke-width="1"/>
<text transform="translate(305.80,350.40) scale(1,1.12)" font-size="7.0" text-anchor="end" fill="#141414">-25</text>
<line x1="308.90" y1="151.57" x2="310.70" y2="151.57" stroke="#3a3a3a" stroke-width="1"/>
<line x1="308.90" y1="177.72" x2="310.70" y2="177.72" stroke="#3a3a3a" stroke-width="1"/>
<line x1="308.90" y1="203.88" x2="310.70" y2="203.88" stroke="#3a3a3a" stroke-width="1"/>
<line x1="308.90" y1="230.02" x2="310.70" y2="230.02" stroke="#3a3a3a" stroke-width="1"/>
<line x1="308.90" y1="256.18" x2="310.70" y2="256.18" stroke="#3a3a3a" stroke-width="1"/>
<line x1="308.90" y1="282.32" x2="310.70" y2="282.32" stroke="#3a3a3a" stroke-width="1"/>
<line x1="308.90" y1="308.48" x2="310.70" y2="308.48" stroke="#3a3a3a" stroke-width="1"/>
<line x1="308.90" y1="334.62" x2="310.70" y2="334.62" stroke="#3a3a3a" stroke-width="1"/>
<line x1="362.50" y1="347.70" x2="362.50" y2="350.70" stroke="#3a3a3a" stroke-width="1"/>
<line x1="414.20" y1="347.70" x2="414.20" y2="350.70" stroke="#3a3a3a" stroke-width="1"/>
<line x1="466.60" y1="347.70" x2="466.60" y2="350.70" stroke="#3a3a3a" stroke-width="1"/>
<text transform="translate(288.3,246.5) rotate(-90)" font-size="8.2" text-anchor="middle" fill="#141414">&#916;G, &#916;H, -T&#916;S (kcal mol<tspan dy="-2.6" font-size="4.4">-1</tspan><tspan dy="2.6">)</tspan></text>
<rect x="488.3" y="143.40" width="13.4" height="4.9" fill="url(#lg)" stroke="#333" stroke-width="0.65"/>
<text x="502.90" y="148.10" font-size="5.8" text-anchor="start" font-weight="normal" fill="#141414" style="stroke-width:0.05px">&#916;G</text>
<rect x="488.3" y="151.20" width="13.4" height="4.9" fill="url(#lh)" stroke="#333" stroke-width="0.65"/>
<text x="502.90" y="155.90" font-size="5.8" text-anchor="start" font-weight="normal" fill="#141414" style="stroke-width:0.05px">&#916;H</text>
<rect x="488.3" y="159.00" width="13.4" height="4.9" fill="url(#hx)" stroke="#333" stroke-width="0.65"/>
<text x="502.90" y="163.70" font-size="5.8" text-anchor="start" font-weight="normal" fill="#141414" style="stroke-width:0.05px">-T&#916;S</text>
<text x="316.20" y="328.80" font-size="10.1" text-anchor="start" font-weight="normal" fill="#111" >n = 1.89</text>
<text x="316.2" y="340.9" font-size="10.1" fill="#111">K<tspan dy="3.4" font-size="6.8">d</tspan><tspan dy="-3.4"> = 170 nM</tspan></text>
<text x="417.30" y="328.80" font-size="10.1" text-anchor="start" font-weight="normal" fill="#111" >n = 2.06</text>
<text x="417.3" y="340.9" font-size="10.1" fill="#111">K<tspan dy="3.4" font-size="6.8">d</tspan><tspan dy="-3.4"> = 2670 nM</tspan></text>
<text x="362.4" y="373.3" font-size="6.8" text-anchor="middle" fill="#141414">VEGF-A<tspan dy="2.4" font-size="3.6">165</tspan><tspan dy="-2.4">/R-2 D23</tspan></text>
<text x="466.0" y="373.3" font-size="6.8" text-anchor="middle" fill="#141414">VEGF-A<tspan dy="2.4" font-size="3.6">165</tspan><tspan dy="-2.4">/R-2 ECD</tspan></text>
</svg>
</body></html>
